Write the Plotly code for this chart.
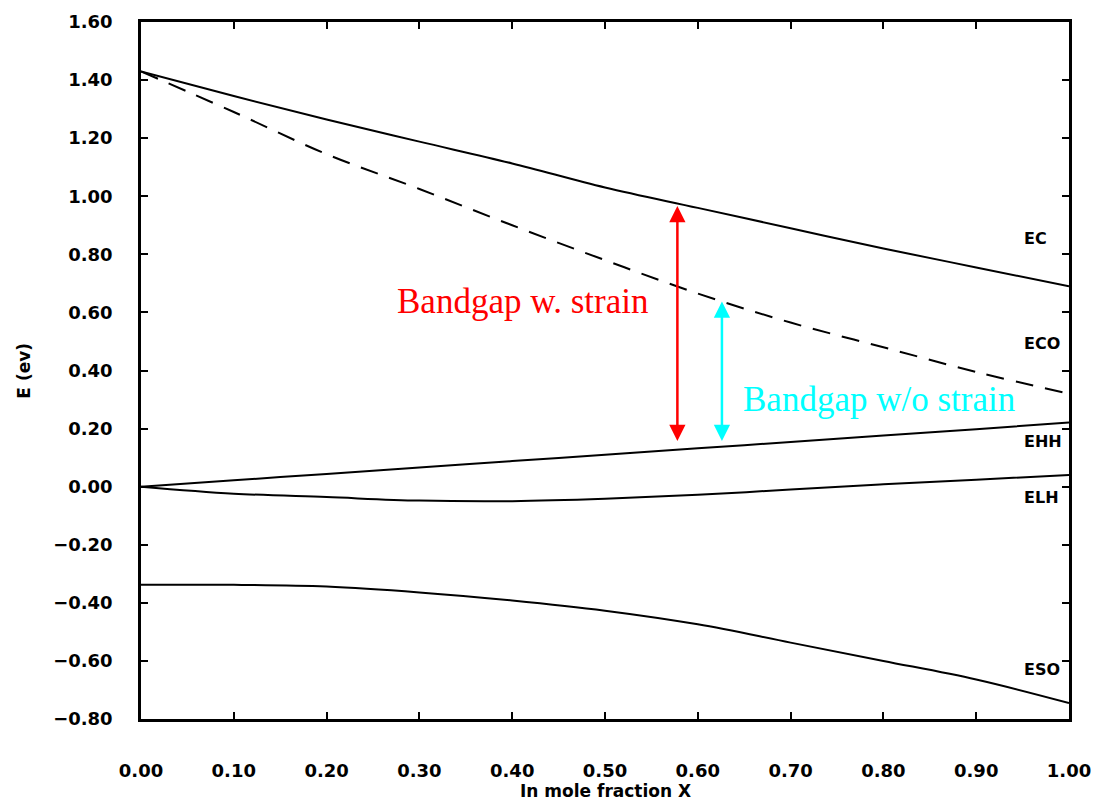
import plotly.graph_objects as go

# In mole fraction X
x = [0.0, 0.1, 0.2, 0.3, 0.4, 0.5, 0.6, 0.7, 0.8, 0.9, 1.0]
EC = [1.43, 1.345, 1.264, 1.188, 1.113, 1.03, 0.96, 0.89, 0.82, 0.755, 0.69]
ECO = [1.43, 1.29, 1.145, 1.025, 0.90, 0.78, 0.665, 0.565, 0.48, 0.395, 0.32]
EHH = [0.0, 0.022, 0.044, 0.066, 0.088, 0.110, 0.132, 0.154, 0.176, 0.198, 0.221]
ELH = [0.0, -0.024, -0.036, -0.048, -0.05, -0.042, -0.028, -0.01, 0.008, 0.024, 0.04]
ESO = [-0.338, -0.338, -0.344, -0.364, -0.392, -0.427, -0.474, -0.537, -0.600, -0.664, -0.745]

band_labels = ["EC", "ECO", "EHH", "ELH", "ESO"]
band_label_y = [0.855, 0.493, 0.155, -0.038, -0.631]

x_ticks = [0.0, 0.1, 0.2, 0.3, 0.4, 0.5, 0.6, 0.7, 0.8, 0.9, 1.0]
x_ticktext = ["0.00", "0.10", "0.20", "0.30", "0.40", "0.50", "0.60", "0.70", "0.80", "0.90", "1.00"]
y_ticks = [1.6, 1.4, 1.2, 1.0, 0.8, 0.6, 0.4, 0.2, 0.0, -0.2, -0.4, -0.6, -0.8]
y_ticktext = ["1.60", "1.40", "1.20", "1.00", "0.80", "0.60", "0.40", "0.20", "0.00",
              "\u22120.20", "\u22120.40", "\u22120.60", "\u22120.80"]

# Bandgap arrows: (x, bottom, top)
strain_arrow = (0.578, 0.152, 0.966)
nostrain_arrow = (0.626, 0.152, 0.638)

fig = go.Figure()
line_style = dict(color="black", width=2)
fig.add_trace(go.Scatter(x=x, y=EC, mode="lines", line=line_style, line_shape="spline"))
fig.add_trace(go.Scatter(x=x, y=ECO, mode="lines", line=dict(color="black", width=2, dash="18px,12px"),
                         line_shape="spline"))
fig.add_trace(go.Scatter(x=x, y=EHH, mode="lines", line=line_style, line_shape="spline"))
fig.add_trace(go.Scatter(x=x, y=ELH, mode="lines", line=line_style, line_shape="spline"))
fig.add_trace(go.Scatter(x=x, y=ESO, mode="lines", line=line_style, line_shape="spline"))

label_font = dict(family="DejaVu Sans", size=16, color="black", weight="bold")
for lab, ly in zip(band_labels, band_label_y):
    fig.add_annotation(x=0.949, y=ly, text=lab, showarrow=False, xanchor="left",
                       yanchor="middle", font=label_font)

# arrows
for (ax_, y0, y1), col in [(strain_arrow, "#ff0000"), (nostrain_arrow, "#00ffff")]:
    fig.add_annotation(x=ax_, y=y1, ax=ax_, ay=y0, xref="x", yref="y", axref="x", ayref="y",
                       text="", showarrow=True, arrowhead=2, startarrowhead=2,
                       arrowside="end+start", arrowsize=1.3, startarrowsize=1.3,
                       arrowwidth=2.5, arrowcolor=col)

fig.add_annotation(x=0.411, y=0.638, text="Bandgap w. strain", showarrow=False,
                   xanchor="center", yanchor="middle",
                   font=dict(family="Liberation Serif", size=35, color="#ff0000"))
fig.add_annotation(x=0.647, y=0.30, text="Bandgap w/o strain", showarrow=False,
                   xanchor="left", yanchor="middle",
                   font=dict(family="Liberation Serif", size=35, color="#00ffff"))

# axis titles
fig.add_annotation(xref="paper", yref="paper", x=0.5, y=-0.103, text="In mole fraction X",
                   showarrow=False, xanchor="center", yanchor="middle",
                   font=dict(family="DejaVu Sans", size=17, color="black", weight="bold"))
fig.add_annotation(xref="paper", yref="paper", x=-0.127, y=0.5, text="E (ev)", textangle=-90,
                   showarrow=False, xanchor="center", yanchor="middle",
                   font=dict(family="DejaVu Sans", size=17, color="black", weight="bold"))

tick_font = dict(family="DejaVu Sans", size=18, color="black", weight="bold")
fig.update_xaxes(range=[0, 1], tickvals=x_ticks, ticktext=x_ticktext, ticks="inside",
                 ticklen=7, tickwidth=2, tickcolor="black", showline=True, linecolor="black",
                 linewidth=2.5, mirror="ticks", showgrid=False, zeroline=False,
                 tickfont=tick_font, ticklabelstandoff=34, automargin=False)
fig.update_yaxes(range=[-0.8, 1.6], tickvals=y_ticks, ticktext=y_ticktext, ticks="inside",
                 ticklen=7, tickwidth=2, tickcolor="black", showline=True, linecolor="black",
                 linewidth=2.5, mirror="ticks", showgrid=False, zeroline=False,
                 tickfont=tick_font, ticklabelstandoff=22, automargin=False)

fig.update_layout(width=1095, height=803, showlegend=False,
                  margin=dict(l=141, r=26, t=22, b=84),
                  plot_bgcolor="white", paper_bgcolor="white")

fig.write_html("out.html")
